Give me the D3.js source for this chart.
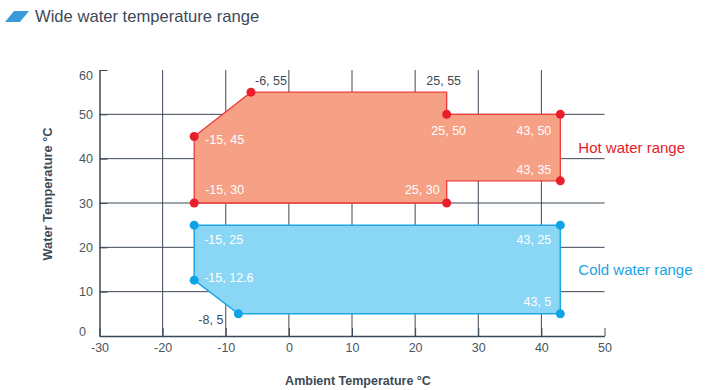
<!DOCTYPE html>
<html>
<head>
<meta charset="utf-8">
<script src="https://cdn.jsdelivr.net/npm/d3@7"></script>
<style>
  body { margin: 0; background: #fff; }
  svg text { font-family: Helvetica, Arial, "Liberation Sans", sans-serif; }
</style>
</head>
<body>
<script>
// Chart data
var title = 'Wide water temperature range';
var xTicks = [-30, -20, -10, 0, 10, 20, 30, 40, 50];
var yTicks = [0, 10, 20, 30, 40, 50, 60];

// Hot water polygon outline (ambient, water)
var hotOutline = [[-15, 30], [-15, 45], [-6, 55], [25, 55], [25, 50], [43, 50], [43, 35], [25, 35], [25, 30]];
var hotPoints = [[-6, 55], [-15, 45], [-15, 30], [25, 50], [43, 50], [43, 35], [25, 30]];
var hotExtraLabels = [[25, 55]];

// Cold water polygon outline
var coldOutline = [[-15, 25], [43, 25], [43, 5], [-8, 5], [-15, 12.6]];
var coldPoints = [[-15, 25], [-15, 12.6], [-8, 5], [43, 25], [43, 5]];

var seriesNames = ['Hot water range', 'Cold water range'];

//Label placement per point (style only)
var hotLabelStyle = [
  {dx: 4, dy: -7, anchor: 'start', dark: true},
  {dx: 11, dy: 7, anchor: 'start'},
  {dx: 11, dy: -9, anchor: 'start'},
  {dx: 2, dy: 21, anchor: 'middle'},
  {dx: -9, dy: 21, anchor: 'end'},
  {dx: -9, dy: -7, anchor: 'end'},
  {dx: -7, dy: -9, anchor: 'end'}
];
var coldLabelStyle = [
  {dx: 10, dy: 19, anchor: 'start'},
  {dx: 10, dy: 2, anchor: 'start'},
  {dx: -15, dy: 10, anchor: 'end', dark: true},
  {dx: -9, dy: 19, anchor: 'end'},
  {dx: -9, dy: -8, anchor: 'end'}
];

var svgWidth = 707, svgHeight = 390;
var margin = {top: 70, left: 99.5, bottom: 54, right: 102.5};
var chartWidth = svgWidth - margin.left - margin.right;
var chartHeight = svgHeight - margin.top - margin.bottom;

var gridColor = '#3b4855';
var textColor = '#3d4a58';

var svg = d3.select('body').append('svg')
  .attr('width', svgWidth)
  .attr('height', svgHeight);

//Title with icon
svg.append('polygon')
  .attr('points', '14,11 29,11 20,22 5,22')
  .attr('fill', '#3a9ad9');
svg.append('text')
  .attr('x', 35).attr('y', 22)
  .attr('font-size', '16.6px')
  .attr('fill', textColor)
  .text(title);

var chart = svg.append('g')
  .attr('transform', `translate(${margin.left}, ${margin.top})`);

var xScale = d3.scaleLinear().domain([-30, 50]).range([0, chartWidth]);
var yScale = d3.scaleLinear().domain([0, 60]).range([chartHeight, 0]);

//Grid lines
chart.append('g').selectAll('line')
  .data(xTicks.slice(1, -1))
  .enter().append('line')
  .attr('x1', d => xScale(d)).attr('x2', d => xScale(d))
  .attr('y1', 0).attr('y2', chartHeight)
  .attr('stroke', gridColor).attr('stroke-width', 1);
chart.append('g').selectAll('line')
  .data(yTicks.slice(1, -1))
  .enter().append('line')
  .attr('y1', d => yScale(d)).attr('y2', d => yScale(d))
  .attr('x1', 0).attr('x2', chartWidth)
  .attr('stroke', gridColor).attr('stroke-width', 1);

//Axes
var xAxis = d3.axisBottom(xScale).tickValues(xTicks).tickFormat(d => String(d))
  .tickSizeInner(-8).tickSizeOuter(0).tickPadding(7);
var yAxis = d3.axisLeft(yScale).tickValues(yTicks).tickFormat(d => String(d))
  .tickSizeInner(-8).tickSizeOuter(0).tickPadding(7);

var gx = chart.append('g')
  .attr('transform', `translate(0, ${chartHeight})`)
  .call(xAxis);
var gy = chart.append('g').call(yAxis);
[gx, gy].forEach(function(g) {
  g.select('.domain').attr('stroke', gridColor).attr('stroke-width', 1.5);
  g.selectAll('.tick line').attr('stroke', gridColor);
  g.selectAll('.tick text')
    .attr('fill', '#4a5560')
    .style('font-size', '12.5px')
    .style('font-family', 'Helvetica, Arial, "Liberation Sans", sans-serif');
});
gy.selectAll('.tick text')
  .attr('text-anchor', 'start')
  .attr('x', -20.5)
  .attr('dy', d => d === 0 ? '-0.05em' : d === 60 ? '0.75em' : '0.32em');

//Polygons
var line = d3.line().x(d => xScale(d[0])).y(d => yScale(d[1]));

chart.append('path')
  .attr('d', line(hotOutline) + 'Z')
  .attr('fill', '#f6a085')
  .attr('stroke', '#ef3a3a')
  .attr('stroke-width', 1.3);
chart.append('path')
  .attr('d', line(coldOutline) + 'Z')
  .attr('fill', '#8ad6f5')
  .attr('stroke', '#1fa6e6')
  .attr('stroke-width', 1.5);

function drawPoints(points, styles, color) {
  chart.append('g').selectAll('circle')
    .data(points)
    .enter().append('circle')
    .attr('cx', d => xScale(d[0]))
    .attr('cy', d => yScale(d[1]))
    .attr('r', 4.5)
    .attr('fill', color);
  chart.append('g').selectAll('text')
    .data(points)
    .enter().append('text')
    .attr('x', (d, i) => xScale(d[0]) + styles[i].dx)
    .attr('y', (d, i) => yScale(d[1]) + styles[i].dy)
    .attr('text-anchor', (d, i) => styles[i].anchor)
    .attr('fill', (d, i) => styles[i].dark ? textColor : '#fff')
    .attr('font-size', '12.5px')
    .text(d => `${d[0]}, ${d[1]}`);
}
drawPoints(hotPoints, hotLabelStyle, '#e81f2a');
drawPoints(coldPoints, coldLabelStyle, '#0fa2e6');

//Corner label without a dot
chart.append('g').selectAll('text')
  .data(hotExtraLabels)
  .enter().append('text')
  .attr('x', d => xScale(d[0]) - 3)
  .attr('y', d => yScale(d[1]) - 7)
  .attr('text-anchor', 'middle')
  .attr('fill', textColor)
  .attr('font-size', '12.5px')
  .text(d => `${d[0]}, ${d[1]}`);

//Series names
chart.append('text')
  .attr('x', xScale(43) + 18)
  .attr('y', yScale(42.5) + 5)
  .attr('fill', '#e8202a')
  .attr('font-size', '15px')
  .text(seriesNames[0]);
chart.append('text')
  .attr('x', xScale(43) + 18)
  .attr('y', yScale(15) + 5)
  .attr('fill', '#1aa3e6')
  .attr('font-size', '15px')
  .text(seriesNames[1]);

//Axis titles
svg.append('text')
  .attr('transform', `translate(52, ${margin.top + chartHeight / 2 - 9}) rotate(-90)`)
  .attr('text-anchor', 'middle')
  .attr('fill', textColor)
  .attr('font-size', '12.8px')
  .attr('font-weight', 'bold')
  .text('Water Temperature \u00B0C');
svg.append('text')
  .attr('x', margin.left + chartWidth / 2 + 6)
  .attr('y', 385)
  .attr('text-anchor', 'middle')
  .attr('fill', textColor)
  .attr('font-size', '12.5px')
  .attr('font-weight', 'bold')
  .text('Ambient Temperature \u00B0C');
</script>
</body>
</html>
